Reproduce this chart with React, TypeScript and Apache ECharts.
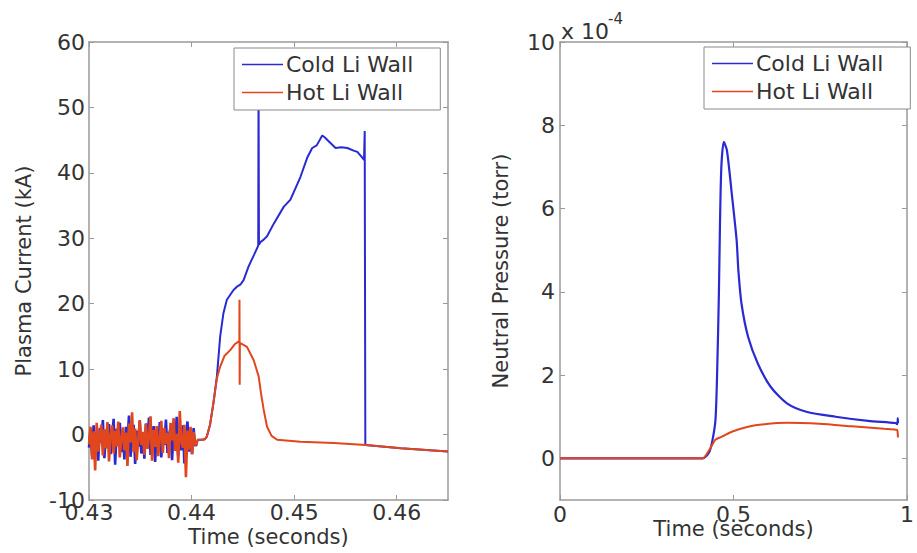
import React, { useEffect, useRef } from "react";
import * as echarts from "echarts";

// ---------- Left panel: Plasma Current (kA) vs Time (s) ----------
const leftXTicks = [0.43, 0.44, 0.45, 0.46];
const leftYTicks = [-10, 0, 10, 20, 30, 40, 50, 60];

// Digitisation noise before breakdown (sampled every 0.15 ms from 0.430 s)
const NOISE_T0 = 0.43;
const NOISE_DT = 0.00015;
const coldNoise = [
  -2.0, 0.8, -3.2, 1.4, -2.5, 0.3, -4.0, 1.0, -1.2, 2.2, -3.6, 0.1, -2.0, 1.6, -3.0, -0.5,
  2.4, -4.6, 0.9, -1.5, 1.8, -2.7, 0.4, -3.8, 1.2, -0.8, 2.9, -3.4, -0.2, 1.5, -4.5, 0.6,
  -1.9, 2.1, -2.9, 0.0, -3.7, 1.7, -1.0, 2.6, -3.1, -0.4, 1.3, -4.2, 0.7, -2.2, 1.9, -3.5,
  0.2, -1.6, 2.3, -2.8, -0.1, 1.1, -3.9, 0.8, -1.3, 2.7, -3.3, 0.5, -2.4, 1.4, -4.4, -0.7,
  2.0, -2.6, 0.3, -3.0, 1.0, -1.8,
];
const hotNoise = [
  -1.5, 1.2, -3.8, 0.5, -5.5, 1.8, -2.6, -0.4, 1.5, -3.2, 0.8, -2.1, 1.9, -4.1, -0.2, 1.4,
  -2.9, 0.6, -1.8, 2.0, -3.5, -0.6, 1.1, -2.4, 0.3, -4.8, 1.7, -1.2, 3.4, -2.7, 0.9, -3.9,
  -0.8, 2.2, -1.6, 0.4, -3.1, 1.6, -2.2, -0.3, 2.8, -4.0, 0.7, -1.9, 1.3, -3.3, -0.5, 2.1,
  -2.8, 1.0, -1.4, 0.2, -3.6, 1.8, -0.9, 2.5, -2.5, 0.1, -4.3, 3.6, -1.1, -2.0, 1.5, -6.5,
  0.6, -2.3, 1.2, -3.0, 0.4, -1.7,
];

const coldCurrentTime = [
  0.44045, 0.44060, 0.44100, 0.44130, 0.44149, 0.44180, 0.44213, 0.44247, 0.44279, 0.44310,
  0.44344, 0.44409, 0.44442, 0.44475, 0.44507, 0.44556, 0.44610, 0.44648, 0.44650, 0.44653,
  0.44657, 0.44670, 0.44703, 0.44736, 0.44800, 0.44898, 0.44964, 0.45062, 0.45127, 0.45176,
  0.45220, 0.45274, 0.45300, 0.45339, 0.45404, 0.45460, 0.45519, 0.45580, 0.45616, 0.45660,
  0.45681, 0.45688, 0.45694, 0.45720, 0.46040, 0.46500,
];
const coldCurrentValue = [
  -1.8, -0.8, -0.8, -0.7, -0.3, 1.5, 4.8, 8.9, 15.0, 18.5,
  20.6, 22.1, 22.6, 22.9, 23.6, 25.7, 27.5, 28.8, 29.0, 54.0,
  29.0, 29.4, 29.8, 30.3, 32.2, 34.8, 35.9, 39.4, 42.3, 43.8,
  44.2, 45.7, 45.4, 44.8, 43.8, 43.9, 43.8, 43.4, 43.2, 42.4,
  42.0, 46.4, -1.6, -1.65, -2.1, -2.6,
];

const hotCurrentTime = [
  0.44045, 0.44060, 0.44100, 0.44130, 0.44149, 0.44180, 0.44213, 0.44247, 0.44279, 0.44320,
  0.44377, 0.44420, 0.44458, 0.44466, 0.44467, 0.44469, 0.44471, 0.44540, 0.44605, 0.44654,
  0.44680, 0.44703, 0.44736, 0.44780, 0.44834, 0.45062, 0.45387, 0.45698, 0.46040, 0.46500,
];
const hotCurrentValue = [
  -1.7, -0.8, -0.8, -0.7, -0.3, 1.5, 4.8, 8.6, 10.4, 12.0,
  12.9, 13.8, 14.2, 14.2, 20.6, 7.6, 14.0, 13.4, 11.4, 8.9,
  6.0, 3.8, 1.2, -0.2, -0.8, -1.1, -1.3, -1.6, -2.1, -2.6,
];

// ---------- Right panel: Neutral Pressure (x 1e-4 torr) vs Time (s) ----------
const rightXTicks = [0, 0.5, 1];
const rightYTicks = [0, 2, 4, 6, 8, 10];

const coldPressureTime = [
  0, 0.411, 0.430, 0.439, 0.448, 0.453, 0.458, 0.461, 0.465, 0.472,
  0.481, 0.495, 0.509, 0.514, 0.523, 0.542, 0.570, 0.607, 0.654, 0.710,
  0.794, 0.888, 0.967, 0.972, 0.9735, 0.974,
];
const coldPressureValue = [
  0, 0, 0.15, 0.42, 0.92, 2.1, 4.0, 5.6, 7.0, 7.6,
  7.4, 6.36, 5.24, 4.52, 3.72, 2.92, 2.28, 1.72, 1.32, 1.12,
  1.0, 0.9, 0.85, 0.82, 0.97, 0.85,
];

const hotPressureTime = [
  0, 0.411, 0.430, 0.448, 0.467, 0.495, 0.542, 0.589, 0.654, 0.748,
  0.841, 0.934, 0.967, 0.972, 0.974,
];
const hotPressureValue = [
  0, 0, 0.2, 0.45, 0.52, 0.64, 0.76, 0.82, 0.855, 0.83,
  0.77, 0.71, 0.69, 0.68, 0.5,
];

const COLD = "#2a2ad2";
const HOT = "#e2461c";
const FRAME = "#9a9a9a";
const TEXT = "#333333";
const FONT = "DejaVu Sans";

function pairs(t: number[], v: number[]) {
  return t.map((x, i) => [x, v[i]]);
}
function noisePairs(v: number[]) {
  return v.map((y, i) => [NOISE_T0 + i * NOISE_DT, y]);
}

export default function App() {
  const ref = useRef<HTMLDivElement>(null);
  useEffect(() => {
    if (!ref.current) return;
    const chart = echarts.init(ref.current, null, { renderer: "svg" });

    const tickStyle = (vals: number[]) => ({
      show: true,
      inside: true,
      length: 5,
      customValues: vals,
      lineStyle: { color: FRAME, width: 1 },
    });
    const lineStyle = { lineStyle: { color: FRAME, width: 1.5 } };
    const labelStyle = { color: TEXT, fontSize: 22, fontFamily: FONT };
    const nameStyle = { color: TEXT, fontSize: 21, fontFamily: FONT };

    const legendCommon = {
      orient: "vertical" as const,
      icon: "rect",
      itemWidth: 41,
      itemHeight: 1.5,
      itemGap: 3,
      backgroundColor: "#ffffff",
      borderColor: "#8a8a8a",
      borderWidth: 1,
      borderRadius: 0,
      padding: [4, 27, 5, 8],
      textStyle: { color: TEXT, fontSize: 22, fontFamily: FONT, lineHeight: 25, padding: [0, 0, 0, -2] },
      data: ["Cold Li Wall", "Hot Li Wall"],
      selectedMode: false,
    };

    const mk = (name: string, xi: number, data: any[], color: string, width: number, z: number, smooth: any = false) => ({
      name, type: "line", xAxisIndex: xi, yAxisIndex: xi,
      data, showSymbol: false, symbol: "none", smooth,
      lineStyle: { color, width }, itemStyle: { color }, z,
    });

    const series: any[] = [
      mk("Cold Li Wall", 0, noisePairs(coldNoise), COLD, 2.6, 2),
      mk("Cold Li Wall", 0, pairs(coldCurrentTime, coldCurrentValue), COLD, 2, 2),
      mk("Hot Li Wall", 0, noisePairs(hotNoise), HOT, 2.6, 3),
      mk("Hot Li Wall", 0, pairs(hotCurrentTime, hotCurrentValue), HOT, 2, 3),
      mk("Cold Li Wall", 2, pairs(coldPressureTime, coldPressureValue), COLD, 2.2, 2, 0.25),
      mk("Hot Li Wall", 2, pairs(hotPressureTime, hotPressureValue), HOT, 2, 3, 0.2),
    ];

    const option: any = {
      animation: false,
      backgroundColor: "#ffffff",
      grid: [
        { left: 89, top: 42, width: 359, height: 458, containLabel: false },
        { left: 560, top: 42, width: 356, height: 458, containLabel: false },
      ],
      xAxis: [
        {
          type: "value", gridIndex: 0, position: "bottom", min: 0.43, max: 0.465,
          axisLine: { show: true, onZero: false, ...lineStyle },
          axisTick: tickStyle(leftXTicks),
          axisLabel: { ...labelStyle, margin: 1, customValues: leftXTicks, formatter: (v: number) => v.toFixed(2) },
          splitLine: { show: false },
          name: "Time (seconds)", nameLocation: "middle", nameGap: 26, nameMoveOverlap: false, nameTextStyle: nameStyle,
        },
        {
          type: "value", gridIndex: 0, position: "top", min: 0.43, max: 0.465,
          axisLine: { show: true, onZero: false, ...lineStyle },
          axisTick: tickStyle(leftXTicks),
          axisLabel: { show: false }, splitLine: { show: false },
        },
        {
          type: "value", gridIndex: 1, position: "bottom", min: 0, max: 1,
          axisLine: { show: true, onZero: false, ...lineStyle },
          axisTick: tickStyle(rightXTicks),
          axisLabel: { ...labelStyle, margin: 3, customValues: rightXTicks, formatter: (v: number) => String(v) },
          splitLine: { show: false },
          name: "Time (seconds)", nameLocation: "middle", nameGap: 18, nameMoveOverlap: false, nameTextStyle: nameStyle,
        },
        {
          type: "value", gridIndex: 1, position: "top", min: 0, max: 1,
          axisLine: { show: true, onZero: false, ...lineStyle },
          axisTick: tickStyle(rightXTicks),
          axisLabel: { show: false }, splitLine: { show: false },
        },
      ],
      yAxis: [
        {
          type: "value", gridIndex: 0, position: "left", min: -10, max: 60, interval: 10,
          axisLine: { show: true, onZero: false, ...lineStyle },
          axisTick: tickStyle(leftYTicks),
          axisLabel: { ...labelStyle, margin: 4, customValues: leftYTicks },
          splitLine: { show: false },
          name: "Plasma Current (kA)", nameLocation: "middle", nameGap: 55, nameMoveOverlap: false, nameTextStyle: nameStyle,
        },
        {
          type: "value", gridIndex: 0, position: "right", min: -10, max: 60, interval: 10,
          axisLine: { show: true, onZero: false, ...lineStyle },
          axisTick: tickStyle(leftYTicks),
          axisLabel: { show: false }, splitLine: { show: false },
        },
        {
          type: "value", gridIndex: 1, position: "left", min: -1, max: 10,
          axisLine: { show: true, onZero: false, ...lineStyle },
          axisTick: tickStyle(rightYTicks),
          axisLabel: { ...labelStyle, margin: 5, customValues: rightYTicks },
          splitLine: { show: false },
          name: "Neutral Pressure (torr)", nameLocation: "middle", nameGap: 49, nameMoveOverlap: false, nameTextStyle: nameStyle,
        },
        {
          type: "value", gridIndex: 1, position: "right", min: -1, max: 10,
          axisLine: { show: true, onZero: false, ...lineStyle },
          axisTick: tickStyle(rightYTicks),
          axisLabel: { show: false }, splitLine: { show: false },
        },
      ],
      legend: [
        { ...legendCommon, left: 234, top: 48 },
        { ...legendCommon, left: 704, top: 47 },
      ],
      graphic: [
        {
          type: "text", left: 561, top: 20,
          style: { text: "x 10", fill: TEXT, font: `22px '${FONT}'` },
        },
        {
          type: "text", left: 608, top: 11,
          style: { text: "-4", fill: TEXT, font: `15px '${FONT}'` },
        },
      ],
      series,
    };
    chart.setOption(option);
    return () => chart.dispose();
  }, []);

  return (
    <div
      ref={ref}
      style={{ position: "fixed", left: 0, top: 0, width: 917, height: 553, background: "#fff" }}
    />
  );
}
